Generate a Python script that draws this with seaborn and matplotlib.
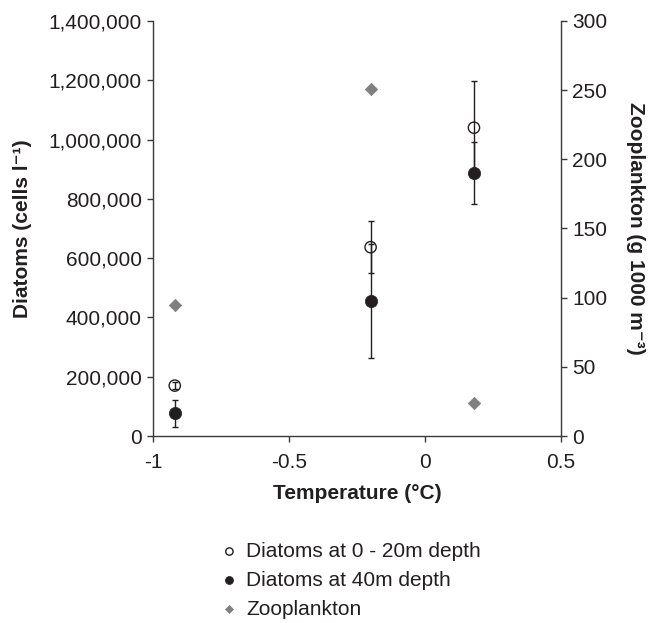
import matplotlib
matplotlib.use("Agg")
import matplotlib.pyplot as plt
import seaborn as sns
import pandas as pd
from matplotlib.ticker import FuncFormatter

# --- Settings ---
sns.set_style("ticks")
plt.rcParams["font.family"] = ["Liberation Sans", "DejaVu Sans"]
plt.rcParams["axes.unicode_minus"] = False
text_col = "#231f20"
line_col = "#3a3a3a"
fs = 15

# --- Data ---
temperature = [-0.92, -0.20, 0.18]
diatoms_surface = [170000, 637000, 1040000]
diatoms_surface_err = [12000, 88000, 158000]
diatoms_deep = [76000, 455000, 888000]
diatoms_deep_err = [45000, 192000, 105000]
zooplankton = [95, 251, 24]

df = pd.DataFrame({
    "Temperature": temperature,
    "Surface": diatoms_surface,
    "Deep": diatoms_deep,
    "Zooplankton": zooplankton,
})

fig = plt.figure(figsize=(6.5, 6.23), dpi=100)
ax = fig.add_axes([153 / 650, 1 - 436 / 623, 408 / 650, 415 / 623])
ax2 = ax.twinx()

# --- Error bars ---
ax.errorbar(temperature, diatoms_surface, yerr=diatoms_surface_err, fmt="none",
            ecolor=text_col, elinewidth=1, capsize=2.5, capthick=1, zorder=2)
ax.errorbar(temperature, diatoms_deep, yerr=diatoms_deep_err, fmt="none",
            ecolor=text_col, elinewidth=1, capsize=2.5, capthick=1, zorder=2)

# --- Points ---
sns.scatterplot(data=df, x="Temperature", y="Surface", ax=ax, marker="o", s=66,
                facecolors="none", edgecolor=text_col, linewidth=1,
                label="Diatoms at 0 - 20m depth", zorder=3)
sns.scatterplot(data=df, x="Temperature", y="Deep", ax=ax, marker="o", s=78,
                color=text_col, edgecolor=text_col, linewidth=0.5,
                label="Diatoms at 40m depth", zorder=3)
sns.scatterplot(data=df, x="Temperature", y="Zooplankton", ax=ax2, marker="D", s=40,
                color="#808080", edgecolor="#808080", linewidth=0.5,
                label="Zooplankton", zorder=3)

# --- Axes ---
ax.set_xlim(-1, 0.5)
ax.set_xticks([-1, -0.5, 0, 0.5])
ax.xaxis.set_major_formatter(FuncFormatter(lambda v, p: f"{v:g}"))
ax.set_ylim(0, 1400000)
ax.set_yticks(range(0, 1400001, 200000))
ax.yaxis.set_major_formatter(FuncFormatter(lambda v, p: f"{v:,.0f}"))
ax2.set_ylim(0, 300)
ax2.set_yticks(range(0, 301, 50))

for a in (ax, ax2):
    a.spines["top"].set_visible(False)
    for s in ("left", "right", "bottom"):
        a.spines[s].set_color(line_col)
        a.spines[s].set_linewidth(1)
    a.tick_params(labelsize=fs, colors=line_col, labelcolor=text_col,
                  length=4, width=1, pad=4)
ax.tick_params(axis="x", pad=8)
ax.spines["right"].set_visible(False)
ax2.spines["left"].set_visible(False)
ax2.spines["bottom"].set_visible(False)

ax.set_xlabel("Temperature (°C)", fontsize=fs, fontweight="bold", color=text_col, labelpad=9)
ax.set_ylabel("Diatoms (cells l⁻¹)", fontsize=fs, fontweight="bold",
              color=text_col, labelpad=12)
ax2.set_ylabel("Zooplankton (g 1000 m⁻³)", fontsize=fs, fontweight="bold",
               color=text_col, rotation=270, labelpad=27)

# --- Legend below the plot ---
handles, labels = [], []
for a in (ax, ax2):
    h, l = a.get_legend_handles_labels()
    handles += h
    labels += l
    if a.get_legend() is not None:
        a.get_legend().remove()
fig.legend(handles, labels, loc="upper left", bbox_to_anchor=(219 / 650, 1 - 542 / 623),
           frameon=False, fontsize=fs, markerscale=0.65, handlelength=1.0,
           handletextpad=0.3, labelspacing=0.47, borderpad=0, borderaxespad=0,
           labelcolor=text_col)

fig.savefig("out.png", dpi=100)
